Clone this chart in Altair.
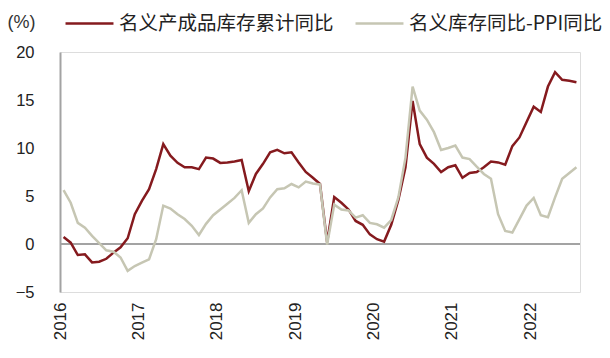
import json
import altair as alt
import pandas as pd

# Monthly observations, Feb-Dec each year (no January), Feb 2016 .. Aug 2022
red_name = "名义产成品库存累计同比"
gray_name = "名义库存同比-PPI同比"

red_vals = [0.73, 0.14, -1.15, -1.08, -1.92, -1.85, -1.54, -0.9, -0.35, 0.6, 3.1,
            4.5, 5.7, 7.8, 10.4, 9.2, 8.45, 8.0, 8.0, 7.8, 9.0, 8.9,
            8.45, 8.5, 8.6, 8.75, 5.5, 7.3, 8.35, 9.55, 9.8, 9.45, 9.55,
            8.5, 7.5, 6.9, 6.25, 0.2, 4.9, 4.3, 3.6, 2.4, 2.0, 1.0,
            0.5, 0.25, 2.0, 4.6, 8.0, 14.9, 10.4, 9.0, 8.35, 7.5, 8.0,
            8.2, 6.9, 7.4, 7.5, 8.0, 8.6, 8.5, 8.25, 10.2, 11.1, 12.7,
            14.3, 13.75, 16.4, 17.9, 17.1, 17.0, 16.85]

gray_vals = [5.6, 4.3, 2.2, 1.7, 0.84, 0.1, -0.66, -0.8, -1.4, -2.8, -2.3,
             -1.95, -1.6, 0.5, 4.0, 3.7, 3.1, 2.6, 1.9, 0.94, 2.1, 3.0,
             3.6, 4.2, 4.8, 5.6, 2.2, 3.1, 3.7, 4.85, 5.7, 5.8, 6.25,
             5.9, 6.5, 6.3, 6.2, -0.05, 4.1, 3.6, 3.5, 2.75, 3.0, 2.2,
             2.05, 1.7, 2.5, 4.85, 9.0, 16.4, 13.9, 12.95, 11.65, 9.8, 10.0,
             10.25, 9.0, 8.85, 8.05, 7.3, 6.8, 3.1, 1.36, 1.2, 2.6, 4.0,
             4.8, 3.0, 2.8, 4.85, 6.8, 7.4, 8.0]

years = ["2016", "2017", "2018", "2019", "2020", "2021", "2022"]
per_year = 11
y_ticks = [-5, 0, 5, 10, 15, 20]

RED = "#851A1E"
GRAY = "#C6C6B3"
AXIS = "#A3A3A3"

rows = []
for i, v in enumerate(red_vals):
    rows.append({"pos": i + 0.5, "value": v, "series": red_name})
for i, v in enumerate(gray_vals):
    rows.append({"pos": i + 0.5, "value": v, "series": gray_name})
df = pd.DataFrame(rows)

n = len(red_vals)
x_tick_vals = [k * per_year for k in range(len(years))]
label_expr = json.dumps(years, ensure_ascii=False) + "[round(datum.value / %d)]" % per_year

x_scale = alt.Scale(domain=[0, n], nice=False, zero=False)
y_scale = alt.Scale(domain=[-5, 20], nice=False)

lines = alt.Chart(df).mark_line(strokeWidth=2.5).encode(
    x=alt.X("pos:Q", scale=x_scale,
            axis=alt.Axis(values=x_tick_vals, labelExpr=label_expr, labelAngle=-90,
                          domain=False, ticks=False, tickSize=0, grid=False,
                          labelPadding=10, labelFontSize=17, labelFont="Liberation Sans",
                          labelColor="#222222", title=None)),
    y=alt.Y("value:Q", scale=y_scale,
            axis=alt.Axis(values=y_ticks, domain=True, domainColor=AXIS, domainWidth=2,
                          ticks=False, tickSize=0, grid=False, labelPadding=26,
                          labelFontSize=16.5, labelFont="Liberation Sans", labelColor="#222222",
                          title="(%)", titleAngle=0, titleX=-53, titleY=-30,
                          titleAlign="left", titleBaseline="middle", titleFontSize=18,
                          titleFontWeight="normal", titleFont="Liberation Sans",
                          titleColor="#333333")),
    color=alt.Color("series:N",
                    scale=alt.Scale(domain=[red_name, gray_name], range=[RED, GRAY]),
                    legend=alt.Legend(orient="none", legendX=4, legendY=-54,
                                      direction="horizontal", title=None,
                                      symbolType="stroke", symbolSize=2300,
                                      symbolStrokeWidth=2.5, labelFontSize=19.5,
                                      labelFont="Noto Sans CJK SC", labelColor="#222222",
                                      labelLimit=400, columnPadding=16, labelOffset=4)),
    order=alt.Order("series:N", sort="descending"),
)

zero = alt.Chart(pd.DataFrame({"y": [0]})).mark_rule(color=AXIS, strokeWidth=2).encode(
    y=alt.Y("y:Q", scale=y_scale)
)

chart = alt.layer(zero, lines).properties(
    width=520, height=240,
    autosize=alt.AutoSizeParams(type="none"),
    padding={"left": 60, "top": 52, "right": 30, "bottom": 66},
).configure_view(stroke=None).configure(background="white")

chart.save("out.html", embed_options={"renderer": "svg", "actions": False})
